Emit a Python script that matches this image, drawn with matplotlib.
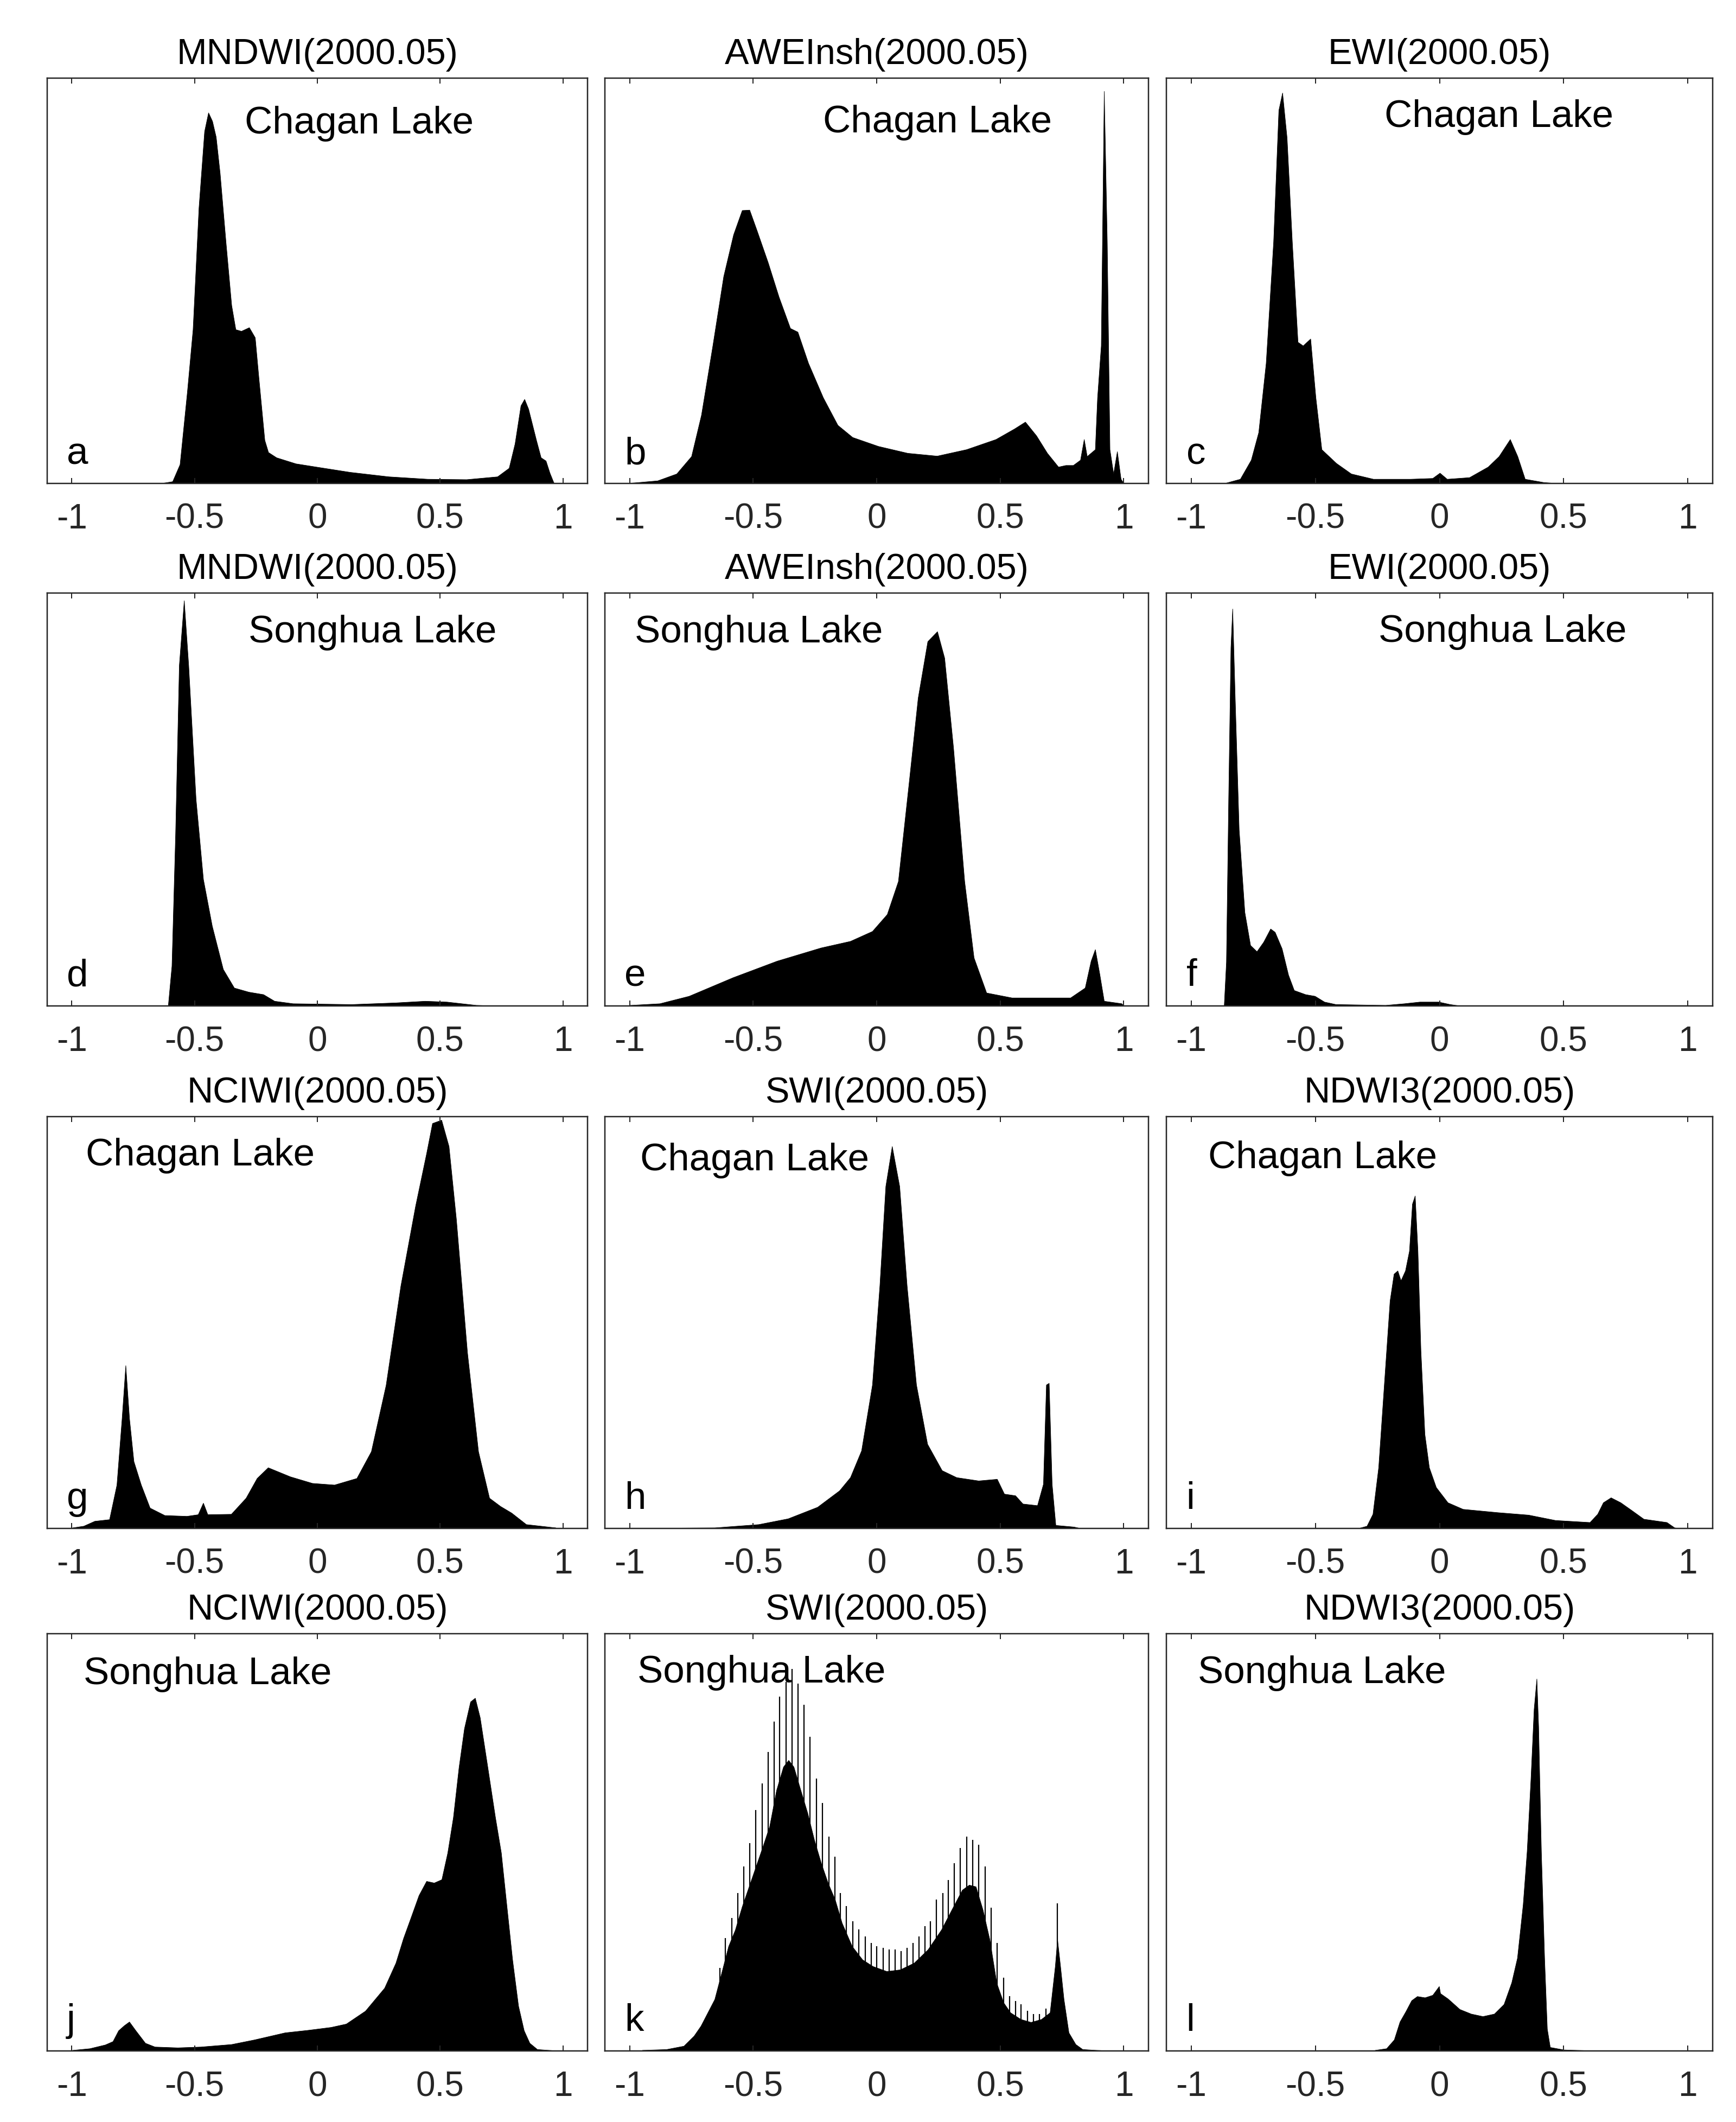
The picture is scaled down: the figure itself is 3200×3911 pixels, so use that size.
import matplotlib
matplotlib.use('Agg')
import matplotlib.pyplot as plt

plt.rcParams['font.family'] = ['Liberation Sans', 'DejaVu Sans']

# ---------------- data (relative frequency, peak-normalised to panel height) --------------
titles = ['MNDWI(2000.05)', 'AWEInsh(2000.05)', 'EWI(2000.05)',
          'MNDWI(2000.05)', 'AWEInsh(2000.05)', 'EWI(2000.05)',
          'NCIWI(2000.05)', 'SWI(2000.05)', 'NDWI3(2000.05)',
          'NCIWI(2000.05)', 'SWI(2000.05)', 'NDWI3(2000.05)']
lakes = ['Chagan Lake'] * 3 + ['Songhua Lake'] * 3 + ['Chagan Lake'] * 3 + ['Songhua Lake'] * 3
letters = list('abcdefghijkl')
tick_values = [-1, -0.5, 0, 0.5, 1]
tick_labels = ['-1', '-0.5', '0', '0.5', '1']

a_x = [-0.641, -0.59, -0.56, -0.53, -0.507, -0.483, -0.46, -0.444, -0.428, -0.413, -0.397, -0.373,
       -0.35, -0.333, -0.31, -0.278, -0.254, -0.239, -0.215, -0.2, -0.167, -0.088, 0.006, 0.133,
       0.29, 0.449, 0.607, 0.733, 0.78, 0.804, 0.828, 0.843, 0.859, 0.891, 0.91, 0.93, 0.946, 0.962, 0.97]
a_y = [0.0, 0.005, 0.047, 0.227, 0.38, 0.68, 0.869, 0.915, 0.894, 0.855, 0.766, 0.595,
       0.44, 0.38, 0.376, 0.385, 0.36, 0.26, 0.107, 0.077, 0.064, 0.049, 0.04, 0.028,
       0.017, 0.011, 0.010, 0.017, 0.038, 0.098, 0.192, 0.208, 0.184, 0.107, 0.064, 0.056, 0.026, 0.002, 0.0]

b_x = [-1.0, -0.887, -0.81, -0.75, -0.71, -0.664, -0.62, -0.58, -0.545, -0.515, -0.485, -0.44,
       -0.396, -0.35, -0.32, -0.277, -0.217, -0.158, -0.098, 0.006, 0.125, 0.244, 0.363, 0.482,
       0.557, 0.601, 0.646, 0.69, 0.735, 0.765, 0.795, 0.824, 0.839, 0.851, 0.884, 0.893, 0.908,
       0.92, 0.932, 0.943, 0.958, 0.973, 0.988, 1.0]
b_y = [0.001, 0.007, 0.024, 0.067, 0.169, 0.34, 0.511, 0.614, 0.674, 0.675, 0.624, 0.545,
       0.46, 0.383, 0.374, 0.297, 0.212, 0.144, 0.114, 0.092, 0.075, 0.068, 0.084, 0.109,
       0.135, 0.152, 0.118, 0.075, 0.041, 0.045, 0.045, 0.058, 0.109, 0.067, 0.084, 0.212, 0.34,
       0.968, 0.598, 0.084, 0.024, 0.079, 0.011, 0.0]

c_x = [-0.863, -0.803, -0.759, -0.729, -0.699, -0.669, -0.648, -0.633, -0.615, -0.594, -0.571,
       -0.55, -0.52, -0.499, -0.475, -0.416, -0.356, -0.267, -0.118, -0.028, 0.001, 0.03, 0.12,
       0.195, 0.239, 0.284, 0.314, 0.344, 0.418, 0.478]
c_y = [0.001, 0.011, 0.058, 0.126, 0.297, 0.597, 0.921, 0.964, 0.853, 0.597, 0.349,
       0.34, 0.357, 0.212, 0.084, 0.05, 0.024, 0.011, 0.011, 0.013, 0.026, 0.011, 0.015,
       0.041, 0.067, 0.109, 0.067, 0.011, 0.003, 0.0]

d_x = [-0.608, -0.593, -0.578, -0.563, -0.543, -0.525, -0.495, -0.465, -0.429, -0.384, -0.339,
       -0.28, -0.22, -0.175, -0.1, 0.139, 0.318, 0.438, 0.527, 0.647, 0.737]
d_y = [0.0, 0.097, 0.42, 0.825, 0.982, 0.825, 0.501, 0.307, 0.194, 0.089, 0.044,
       0.034, 0.028, 0.012, 0.006, 0.004, 0.008, 0.012, 0.01, 0.002, 0.0]

e_x = [-0.997, -0.878, -0.76, -0.582, -0.404, -0.226, -0.107, -0.018, 0.042, 0.087, 0.131, 0.167,
       0.206, 0.245, 0.274, 0.31, 0.355, 0.393, 0.444, 0.547, 0.784, 0.843, 0.867, 0.884, 0.902,
       0.92, 0.991, 1.0]
e_y = [0.002, 0.006, 0.024, 0.069, 0.109, 0.141, 0.157, 0.181, 0.222, 0.302, 0.544, 0.746,
       0.883, 0.907, 0.843, 0.625, 0.302, 0.117, 0.032, 0.02, 0.02, 0.044, 0.109, 0.137, 0.077,
       0.012, 0.006, 0.0]

f_x = [-0.868, -0.859, -0.85, -0.841, -0.834, -0.824, -0.808, -0.785, -0.762, -0.736, -0.709,
       -0.681, -0.663, -0.635, -0.609, -0.586, -0.54, -0.502, -0.464, -0.418, -0.218, -0.142,
       -0.08, -0.004, 0.042, 0.088]
f_y = [0.0, 0.107, 0.507, 0.868, 0.962, 0.747, 0.427, 0.227, 0.147, 0.132, 0.155,
       0.187, 0.179, 0.139, 0.075, 0.038, 0.028, 0.024, 0.01, 0.004, 0.002, 0.006,
       0.01, 0.01, 0.004, 0.0]

g_x = [-0.997, -0.952, -0.907, -0.847, -0.817, -0.796, -0.781, -0.766, -0.748, -0.718, -0.682,
       -0.622, -0.532, -0.486, -0.465, -0.447, -0.351, -0.291, -0.246, -0.201, -0.111, -0.021,
       0.069, 0.16, 0.219, 0.279, 0.339, 0.399, 0.444, 0.468, 0.505, 0.535, 0.565, 0.61, 0.655,
       0.7, 0.745, 0.79, 0.85, 0.97]
g_y = [0.002, 0.006, 0.018, 0.022, 0.106, 0.267, 0.396, 0.267, 0.163, 0.106, 0.05,
       0.032, 0.03, 0.034, 0.062, 0.034, 0.035, 0.074, 0.122, 0.148, 0.126, 0.11,
       0.106, 0.122, 0.187, 0.348, 0.589, 0.783, 0.911, 0.984, 0.992, 0.928, 0.751, 0.428, 0.187,
       0.074, 0.054, 0.038, 0.01, 0.002]

h_x = [-0.893, -0.656, -0.478, -0.359, -0.24, -0.151, -0.107, -0.062, -0.018, 0.012, 0.036,
       0.062, 0.092, 0.122, 0.16, 0.205, 0.264, 0.323, 0.412, 0.487, 0.516, 0.561, 0.591, 0.65,
       0.674, 0.686, 0.697, 0.709, 0.724, 0.798, 0.828]
h_y = [0.001, 0.002, 0.01, 0.024, 0.052, 0.092, 0.124, 0.189, 0.349, 0.59, 0.831,
       0.928, 0.831, 0.59, 0.349, 0.205, 0.141, 0.124, 0.116, 0.12, 0.084, 0.08, 0.06, 0.056,
       0.108, 0.349, 0.353, 0.108, 0.008, 0.004, 0.0]

i_x = [-0.324, -0.293, -0.269, -0.246, -0.223, -0.2, -0.184, -0.169, -0.156, -0.138, -0.122,
       -0.11, -0.099, -0.088, -0.076, -0.06, -0.042, -0.014, 0.033, 0.094, 0.234, 0.358, 0.466,
       0.605, 0.636, 0.659, 0.69, 0.729, 0.776, 0.822, 0.915, 0.946, 0.969]
i_y = [0.001, 0.006, 0.035, 0.148, 0.351, 0.553, 0.618, 0.626, 0.602, 0.626, 0.674,
       0.788, 0.808, 0.674, 0.432, 0.229, 0.148, 0.1, 0.063, 0.047, 0.039, 0.033, 0.02,
       0.015, 0.035, 0.063, 0.075, 0.063, 0.043, 0.023, 0.015, 0.002, 0.0]

j_x = [-0.997, -0.927, -0.864, -0.833, -0.81, -0.787, -0.766, -0.74, -0.701, -0.662, -0.569,
       -0.475, -0.35, -0.257, -0.132, -0.039, 0.055, 0.117, 0.195, 0.273, 0.319, 0.35, 0.382,
       0.413, 0.444, 0.475, 0.506, 0.53, 0.553, 0.576, 0.598, 0.623, 0.642, 0.662, 0.693, 0.724,
       0.748, 0.771, 0.794, 0.818, 0.841, 0.864, 0.895, 0.942, 0.988]
j_y = [0.002, 0.006, 0.015, 0.023, 0.049, 0.061, 0.07, 0.049, 0.019, 0.01, 0.008,
       0.01, 0.016, 0.027, 0.044, 0.05, 0.057, 0.065, 0.096, 0.151, 0.211, 0.27, 0.322,
       0.373, 0.407, 0.403, 0.411, 0.475, 0.56, 0.68, 0.773, 0.837, 0.846, 0.799, 0.68, 0.56,
       0.475, 0.346, 0.218, 0.108, 0.049, 0.019, 0.004, 0.002, 0.0]

k_x = [-0.949, -0.851, -0.781, -0.74, -0.712, -0.684, -0.656, -0.628, -0.6, -0.573, -0.545,
       -0.517, -0.489, -0.461, -0.434, -0.406, -0.378, -0.357, -0.336, -0.308, -0.28, -0.253,
       -0.225, -0.197, -0.169, -0.141, -0.1, -0.058, -0.016, 0.04, 0.095, 0.151, 0.207, 0.262,
       0.304, 0.346, 0.374, 0.401, 0.429, 0.457, 0.485, 0.513, 0.541, 0.583, 0.624, 0.666, 0.701,
       0.722, 0.731, 0.743, 0.757, 0.777, 0.805, 0.833, 0.889, 0.958]
k_y = [0.002, 0.004, 0.012, 0.036, 0.06, 0.092, 0.124, 0.187, 0.251, 0.29, 0.346,
       0.394, 0.442, 0.49, 0.538, 0.625, 0.681, 0.697, 0.681, 0.625, 0.57, 0.506,
       0.45, 0.402, 0.363, 0.307, 0.251, 0.219, 0.203, 0.191, 0.195, 0.211, 0.243, 0.291,
       0.339, 0.386, 0.398, 0.394, 0.339, 0.267, 0.163, 0.116, 0.092, 0.076, 0.069, 0.076, 0.092,
       0.203, 0.267, 0.203, 0.124, 0.044, 0.016, 0.004, 0.002, 0.0]
# regularly spaced spikes in SWI (Songhua Lake) histogram
k_spike_x = [-0.635, -0.612, -0.587, -0.562, -0.538, -0.513, -0.489, -0.464, -0.44, -0.415, -0.392,
             -0.367, -0.343, -0.318, -0.294, -0.269, -0.244, -0.219, -0.194, -0.169, -0.147, -0.122,
             -0.097, -0.072, -0.047, -0.023, 0.001, 0.026, 0.051, 0.074, 0.098, 0.123, 0.148, 0.172,
             0.195, 0.218, 0.241, 0.267, 0.29, 0.315, 0.339, 0.364, 0.388, 0.413, 0.439, 0.464, 0.488,
             0.513, 0.537, 0.562, 0.585, 0.61, 0.634, 0.659, 0.684, 0.731]
k_spike_y = [0.199, 0.271, 0.319, 0.378, 0.442, 0.498, 0.578, 0.641, 0.717, 0.789, 0.849,
             0.884, 0.916, 0.881, 0.829, 0.753, 0.653, 0.594, 0.514, 0.466, 0.378, 0.347,
             0.311, 0.291, 0.275, 0.259, 0.251, 0.247, 0.243, 0.243, 0.239, 0.247, 0.259, 0.275,
             0.299, 0.311, 0.363, 0.378, 0.41, 0.45, 0.486, 0.514, 0.506, 0.494, 0.442, 0.343, 0.259,
             0.175, 0.131, 0.12, 0.112, 0.096, 0.088, 0.088, 0.101, 0.354]

l_x = [-0.26, -0.214, -0.183, -0.16, -0.136, -0.113, -0.09, -0.059, -0.028, -0.002, 0.003,
       0.034, 0.081, 0.127, 0.174, 0.22, 0.259, 0.29, 0.313, 0.336, 0.352, 0.367, 0.38, 0.391,
       0.398, 0.409, 0.422, 0.433, 0.445, 0.5, 0.654]
l_y = [0.002, 0.006, 0.027, 0.07, 0.095, 0.121, 0.131, 0.128, 0.134, 0.155, 0.138,
       0.125, 0.1, 0.089, 0.083, 0.089, 0.112, 0.164, 0.223, 0.351, 0.479, 0.649, 0.819, 0.892,
       0.777, 0.479, 0.223, 0.053, 0.009, 0.003, 0.0]

series_x = [a_x, b_x, c_x, d_x, e_x, f_x, g_x, h_x, i_x, j_x, k_x, l_x]
series_y = [a_y, b_y, c_y, d_y, e_y, f_y, g_y, h_y, i_y, j_y, k_y, l_y]

# ---------------- layout ---------------------------------------------------------------
W, H = 3200, 3911
fig = plt.figure(figsize=(W / 100, H / 100), dpi=100)
col_px = [(87, 1083), (1115, 2117), (2150, 3157)]
row_px = [(144, 891), (1093, 1854), (2058, 2817), (3011, 3780)]

# lake label positions (x data start, y axes-fraction baseline)
lake_pos = [(-0.297, 0.864), (-0.217, 0.866), (-0.222, 0.879),
            (-0.28, 0.88), (-0.979, 0.881), (-0.246, 0.882),
            (-0.943, 0.881), (-0.958, 0.87), (-0.932, 0.875),
            (-0.953, 0.879), (-0.969, 0.883), (-0.974, 0.882)]

PX = 72 / 100  # points per pixel
spine_c = '#262626'

for idx in range(12):
    r, c = divmod(idx, 3)
    x0, x1 = col_px[c]
    y0, y1 = row_px[r]
    ax = fig.add_axes([x0 / W, 1 - y1 / H, (x1 - x0) / W, (y1 - y0) / H])
    ax.fill_between(series_x[idx], series_y[idx], 0, color='black', linewidth=0.6,
                    edgecolor='black')
    if idx == 10:
        ax.vlines(k_spike_x, 0, k_spike_y, color='black', linewidth=2.2 * PX)
    ax.set_xlim(-1.1, 1.1)
    ax.set_ylim(0, 1.0)
    ax.set_xticks(tick_values)
    ax.set_xticklabels(tick_labels)
    ax.set_yticks([])
    ax.tick_params(axis='x', which='both', direction='in', top=True, bottom=True,
                   length=10 * PX, width=2 * PX, pad=36 * PX, labelsize=46,
                   color=spine_c, labelcolor=spine_c)
    for sp in ax.spines.values():
        sp.set_linewidth(2.5 * PX)
        sp.set_color(spine_c)
    ax.annotate(titles[idx], xy=(0.5, 1), xycoords='axes fraction',
                xytext=(0, 26 * PX), textcoords='offset points',
                ha='center', va='baseline', fontsize=48, color='black')
    lx, ly = lake_pos[idx]
    ax.text(lx, ly, lakes[idx], transform=ax.get_xaxis_transform(),
            ha='left', va='baseline', fontsize=51, color='black')
    ax.text(-1.02, 0.048, letters[idx], transform=ax.get_xaxis_transform(),
            ha='left', va='baseline', fontsize=51, color='black')

fig.savefig('out.png', dpi=100, facecolor='white')
